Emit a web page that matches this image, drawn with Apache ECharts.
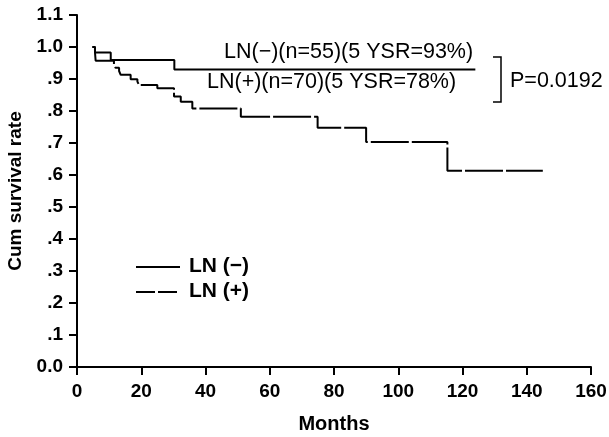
<!DOCTYPE html>
<html>
<head>
<meta charset="utf-8">
<script src="https://cdn.jsdelivr.net/npm/echarts@6/dist/echarts.min.js"></script>
<style>
  html, body { margin: 0; padding: 0; background: #fff; }
  #chart { width: 609px; height: 437px; }
</style>
</head>
<body>
<div id="chart"></div>
<script>
// Kaplan-Meier steps: month of each drop, survival after it
var negMonths = [4.8, 5.6, 10.5, 30.3, 124];
var negSurv   = [1.0, 0.983, 0.959, 0.93, 0.93];

var posMonths = [4.8, 5.6, 5.8, 11.5, 12.0, 13.1, 13.6, 16.7, 18.8, 19.3, 25.0, 30.2, 32.3, 35.9, 51.0, 74.9, 90.0, 115.3, 145];
var posSurv   = [1.0, 0.983, 0.957, 0.946, 0.935, 0.925, 0.913, 0.899, 0.892, 0.881, 0.871, 0.845, 0.829, 0.808, 0.782, 0.748, 0.703, 0.613, 0.613];

var yTickLabels = ["0.0", ".1", ".2", ".3", ".4", ".5", ".6", ".7", ".8", ".9", "1.0", "1.1"];
var seriesNames = ["LN (\u2212)", "LN (+)"];

var FONT = "Liberation Sans, Arial, sans-serif";

function pairs(xs, ys) {
    return xs.map(function (x, i) { return [x, ys[i]]; });
}

var chart = echarts.init(document.getElementById("chart"));
var option = {
    animation: false,
    backgroundColor: "#fff",
    grid: { left: 77, right: 18, top: 15, bottom: 70, containLabel: false, outerBoundsMode: "none" },
    xAxis: {
        type: "value",
        min: 0,
        max: 160,
        interval: 20,
        name: "Months",
        nameLocation: "middle",
        nameGap: 47,
        nameTextStyle: { fontFamily: FONT, fontSize: 20, fontWeight: "bold", color: "#000" },
        axisLine: { lineStyle: { color: "#000", width: 2 } },
        axisTick: { length: 8, lineStyle: { color: "#000", width: 2 } },
        axisLabel: { margin: 15, fontFamily: FONT, fontSize: 19, fontWeight: "bold", color: "#000" },
        splitLine: { show: false }
    },
    yAxis: {
        type: "value",
        min: 0,
        max: 1.1,
        interval: 0.1,
        name: "Cum survival rate",
        nameLocation: "middle",
        nameGap: 52,
        nameTextStyle: { fontFamily: FONT, fontSize: 19, fontWeight: "bold", color: "#000" },
        axisLine: { show: true, lineStyle: { color: "#000", width: 2 } },
        axisTick: { show: true, length: 8, lineStyle: { color: "#000", width: 2 } },
        axisLabel: {
            margin: 14,
            fontFamily: FONT, fontSize: 19, fontWeight: "bold", color: "#000",
            formatter: function (v) { return yTickLabels[Math.round(v * 10)]; }
        },
        splitLine: { show: false }
    },
    graphic: [
        // legend
        { type: "line", shape: { x1: 136, y1: 267, x2: 180, y2: 267 }, style: { stroke: "#000", lineWidth: 2 } },
        { type: "line", shape: { x1: 136, y1: 292, x2: 180, y2: 292 }, style: { stroke: "#000", lineWidth: 2, lineDash: [19, 3] } },
        { type: "text", left: 189, top: 256, style: { text: seriesNames[0], font: "bold 21px " + FONT, fill: "#000" } },
        { type: "text", left: 189, top: 281, style: { text: seriesNames[1], font: "bold 21px " + FONT, fill: "#000" } },
        // annotations
        { type: "text", left: 224, top: 41, style: { text: "LN(\u2212)(n=55)(5 YSR=93%)", font: "21.5px " + FONT, fill: "#000" } },
        { type: "text", left: 207, top: 71, style: { text: "LN(+)(n=70)(5 YSR=78%)", font: "21.5px " + FONT, fill: "#000" } },
        { type: "polyline", shape: { points: [[493, 57], [501, 57], [501, 102], [493, 102]] }, style: { stroke: "#000", lineWidth: 1.5, fill: null } },
        { type: "text", left: 510, top: 70, style: { text: "P=0.0192", font: "21.5px " + FONT, fill: "#000" } }
    ],
    series: [
        {
            name: seriesNames[0],
            type: "line",
            step: "end",
            symbol: "none",
            data: pairs(negMonths, negSurv),
            lineStyle: { color: "#000", width: 2, type: "solid" }
        },
        {
            name: seriesNames[1],
            type: "line",
            step: "end",
            symbol: "none",
            data: pairs(posMonths, posSurv),
            lineStyle: { color: "#000", width: 2, type: [38, 3] }
        }
    ]
};
option && "object" == typeof option && chart.setOption(option, true);
</script>
</body>
</html>
